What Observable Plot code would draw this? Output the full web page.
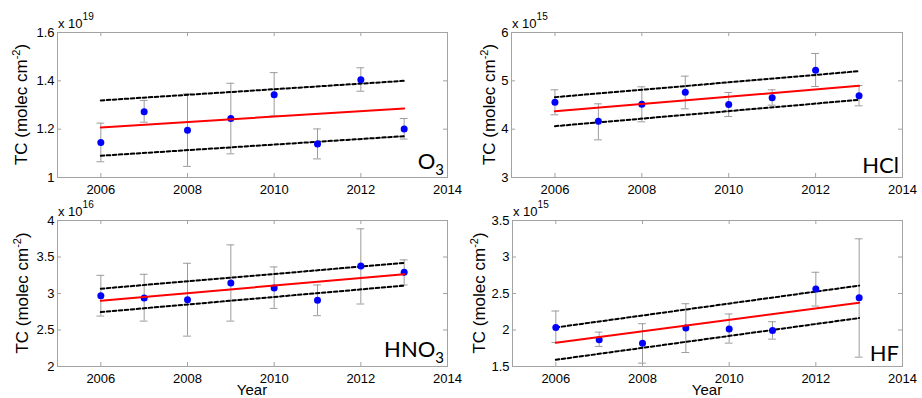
<!DOCTYPE html>
<html><head><meta charset="utf-8">
<script src="https://cdn.jsdelivr.net/npm/d3@7"></script>
<script src="https://cdn.jsdelivr.net/npm/@observablehq/plot@0.6"></script>
<style>
body{margin:0;background:#fff;}
#chart{position:relative;width:922px;height:398px;overflow:hidden;background:#fff;}
#chart svg{position:absolute;}
</style></head><body><div id="chart"></div>
<script>
// ---- data ----
const years = [2006, 2007, 2008, 2009, 2010, 2011, 2012, 2013];
const fitYears = [2006, 2013];
const xTicks = [2006, 2008, 2010, 2012, 2014];
const xDomain = [2005, 2014];

// O3, x 10^19 molec cm-2
const o3Values = [1.145, 1.272, 1.196, 1.244, 1.342, 1.139, 1.404, 1.201];
const o3Hi     = [1.225, 1.319, 1.346, 1.390, 1.434, 1.201, 1.454, 1.244];
const o3Lo     = [1.065, 1.229, 1.046, 1.098, 1.255, 1.077, 1.357, 1.159];
const o3Fit    = [1.207, 1.286];
const o3Upper  = [1.319, 1.400];
const o3Lower  = [1.090, 1.171];
const o3Ticks  = [1, 1.2, 1.4, 1.6];

// HCl, x 10^15
const hclValues = [4.559, 4.166, 4.517, 4.766, 4.510, 4.648, 5.221, 4.690];
const hclHi     = [4.814, 4.524, 4.876, 5.097, 4.759, 4.814, 5.566, 4.903];
const hclLo     = [4.297, 3.779, 4.152, 4.421, 4.262, 4.497, 4.883, 4.483];
const hclFit    = [4.372, 4.897];
const hclUpper  = [4.662, 5.200];
const hclLower  = [4.062, 4.607];
const hclTicks  = [3, 4, 5, 6];

// HNO3, x 10^16
const hno3Values = [2.970, 2.938, 2.915, 3.144, 3.076, 2.906, 3.378, 3.291];
const hno3Hi     = [3.249, 3.263, 3.414, 3.666, 3.364, 3.117, 3.886, 3.460];
const hno3Lo     = [2.691, 2.622, 2.416, 2.622, 2.796, 2.696, 2.856, 3.117];
const hno3Fit    = [2.902, 3.263];
const hno3Upper  = [3.066, 3.419];
const hno3Lower  = [2.746, 3.108];
const hno3Ticks  = [2, 2.5, 3, 3.5, 4];

// HF, x 10^15
const hfValues = [2.035, 1.866, 1.820, 2.026, 2.013, 1.994, 2.562, 2.443];
const hfHi     = [2.260, 1.971, 2.086, 2.360, 2.219, 2.113, 2.791, 3.249];
const hfLo     = [1.830, 1.775, 1.546, 1.692, 1.820, 1.875, 2.328, 1.628];
const hfFit    = [1.825, 2.374];
const hfUpper  = [2.035, 2.608];
const hfLower  = [1.592, 2.164];
const hfTicks  = [1.5, 2, 2.5, 3, 3.5];

const yLabel = "TC (molec cm";
const yLabelSup = "-2";
const xLabel = "Year";

// ---- layout ----
const panels = [
  {name:"O", sub:"3", exp:"19", values:o3Values, hi:o3Hi, lo:o3Lo, fit:o3Fit, upper:o3Upper, lower:o3Lower, ticks:o3Ticks,
   left:0, top:0, width:470, height:200, mL:57, mR:23, mT:32, mB:23, labX:27, nameBase:-8, showYear:false},
  {name:"HCl", sub:"", exp:"15", values:hclValues, hi:hclHi, lo:hclLo, fit:hclFit, upper:hclUpper, lower:hclLower, ticks:hclTicks,
   left:460, top:0, width:462, height:200, mL:51, mR:20, mT:32, mB:23, labX:35, nameBase:-4, showYear:false},
  {name:"HNO", sub:"3", exp:"16", values:hno3Values, hi:hno3Hi, lo:hno3Lo, fit:hno3Fit, upper:hno3Upper, lower:hno3Lower, ticks:hno3Ticks,
   left:0, top:188, width:470, height:210, mL:57, mR:23, mT:32, mB:32, labX:28, nameBase:-9, showYear:true},
  {name:"HF", sub:"", exp:"15", values:hfValues, hi:hfHi, lo:hfLo, fit:hfFit, upper:hfUpper, lower:hfLower, ticks:hfTicks,
   left:460, top:188, width:462, height:210, mL:52, mR:20, mT:32, mB:32, labX:25, nameBase:-5, showYear:true}
];

const chart = document.getElementById("chart");
const grey = "#a3a3a3";
const errGrey = "#9c9c9c";
const fontMain = "'Liberation Sans', Arial, sans-serif";

for (const p of panels) {
  const rows = years.map((year, i) => ({year, value:p.values[i], hi:p.hi[i], lo:p.lo[i]}));
  const fit = fitYears.map((year, i) => ({year, mid:p.fit[i], upper:p.upper[i], lower:p.lower[i]}));
  const plotW = p.width - p.mL - p.mR;
  const plotH = p.height - p.mT - p.mB;
  const svg = Plot.plot({
    width: p.width, height: p.height,
    marginLeft: p.mL, marginRight: p.mR, marginTop: p.mT, marginBottom: p.mB,
    style: {background:"transparent", overflow:"visible", fontFamily:fontMain, fontSize:"13px", color:"#000"},
    x: {domain: xDomain},
    y: {domain: [p.ticks[0], p.ticks[p.ticks.length - 1]]},
    marks: [
      Plot.ruleX(rows, {x:"year", y1:"lo", y2:"hi", stroke:errGrey, strokeWidth:1}),
      Plot.ruleY(rows, {y:"hi", x1:d => d.year - 0.09, x2:d => d.year + 0.09, stroke:errGrey}),
      Plot.ruleY(rows, {y:"lo", x1:d => d.year - 0.09, x2:d => d.year + 0.09, stroke:errGrey}),
      Plot.line(fit, {x:"year", y:"upper", stroke:"#000", strokeWidth:2, strokeDasharray:"3.5,2.5"}),
      Plot.line(fit, {x:"year", y:"lower", stroke:"#000", strokeWidth:2, strokeDasharray:"3.5,2.5"}),
      Plot.dot(rows, {x:"year", y:"value", fill:"#0000ff", r:3.5}),
      Plot.line(fit, {x:"year", y:"mid", stroke:"#ff0000", strokeWidth:2}),
      Plot.frame({stroke:grey}),
      Plot.tickX(xTicks, {x:d => d, insetTop: plotH - 4, stroke:grey}),
      Plot.tickX(xTicks, {x:d => d, insetBottom: plotH - 4, stroke:grey}),
      Plot.tickY(p.ticks, {y:d => d, insetRight: plotW - 4, stroke:grey}),
      Plot.tickY(p.ticks, {y:d => d, insetLeft: plotW - 4, stroke:grey}),
      Plot.axisX({ticks:xTicks, tickSize:0, tickPadding:7, tickFormat:d3.format("d"), label:null, fill:"#000", fontSize:13}),
      Plot.axisY({ticks:p.ticks, tickSize:0, tickPadding:3, tickFormat:d => String(d), label:null, fill:"#000", fontSize:13})
    ]
  });
  svg.style.left = p.left + "px";
  svg.style.top = p.top + "px";
  const s = d3.select(svg);

  // exponent label
  const ex = s.append("text").attr("x", p.mL + 1).attr("y", p.mT - 4)
    .attr("text-anchor", "start")
    .attr("font-family", fontMain).attr("font-size", 13).attr("fill", "#000");
  ex.append("tspan").text("x 10");
  ex.append("tspan").attr("dy", -8).attr("font-size", 10).text(p.exp);

  // y label
  const yl = s.append("text")
    .attr("transform", `translate(${p.labX},${p.mT + plotH / 2}) rotate(-90)`)
    .attr("text-anchor", "middle").attr("font-family", fontMain).attr("font-size", 17).attr("fill", "#000");
  yl.append("tspan").text(yLabel);
  yl.append("tspan").attr("dy", -7).attr("font-size", 11).text(yLabelSup);
  yl.append("tspan").attr("dy", 7).text(")");

  // panel name
  const nm = s.append("text").attr("x", p.mL + plotW - 3).attr("y", p.mT + plotH + p.nameBase)
    .attr("text-anchor", "end").attr("font-family", "Lato, 'Open Sans', sans-serif").attr("font-size", 22).attr("fill", "#000");
  nm.append("tspan").text(p.name);
  if (p.sub) nm.append("tspan").attr("dy", 6).attr("font-size", 15).text(p.sub);

  if (p.showYear) {
    s.append("text").attr("x", p.mL + plotW / 2).attr("y", p.height - 3)
      .attr("text-anchor", "middle").attr("font-family", fontMain).attr("font-size", 15).attr("fill", "#000")
      .text(xLabel);
  }
  chart.appendChild(svg);
}
</script>
</body></html>
